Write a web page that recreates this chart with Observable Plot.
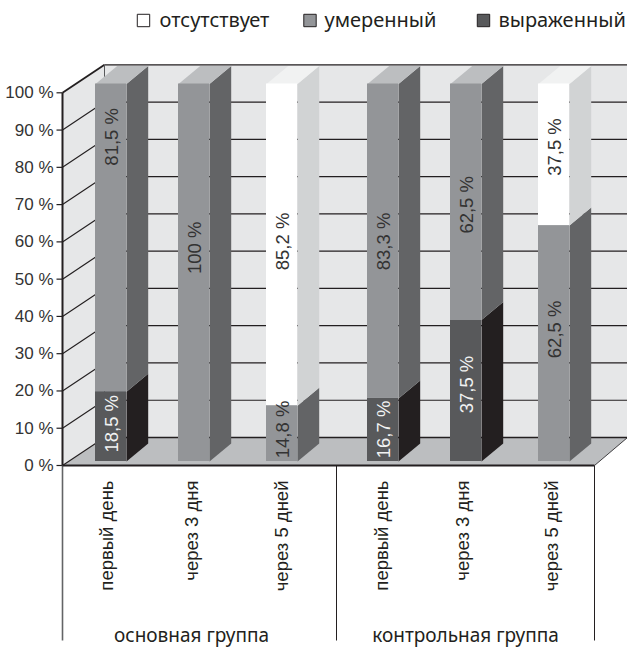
<!DOCTYPE html>
<html>
<head>
<meta charset="utf-8">
<script src="https://cdn.jsdelivr.net/npm/d3@7"></script>
<script src="https://cdn.jsdelivr.net/npm/@observablehq/plot@0.6"></script>
<style>
  html, body { margin: 0; padding: 0; background: #fff; }
  svg { display: block; }
</style>
</head>
<body>
<script>
// Severity shares per measurement, in percent
const categories = ["первый день", "через 3 дня", "через 5 дней", "первый день", "через 3 дня", "через 5 дней"];
const severe   = [18.5, 0, 0, 16.7, 37.5, 0];
const moderate = [81.5, 100, 14.8, 83.3, 62.5, 62.5];
const absent   = [0, 0, 85.2, 0, 0, 37.5];
const groups = ["основная группа", "контрольная группа"];
const legendNames = ["отсутствует", "умеренный", "выраженный"];
const percentTicks = [0, 10, 20, 30, 40, 50, 60, 70, 80, 90, 100];

// Layout of the pseudo-3D box, in svg units
const W = 627, H = 648;
const barBase = 461, barTop = 83.5;
const wallBase = 465, wallSpan = 372.7;
const wallLeft = 62, wallRight = 594, backLeft = 104, backRight = 627, wallRise = 28;
const barLeft = [95, 178, 266, 367, 450, 538];
const categoryX = [107, 192, 282, 382, 463, 552];
const barWidth = 31, barDeepX = 21.7, barDeepY = 18;
const separators = [62, 336, 594];

const perSvg = 100 / (barBase - barTop);
const level = (p) => (barBase - p) * perSvg;            // svg row -> percent units of the y scale
const wallRow = (v, rise = 0) => level(wallBase - wallSpan * v / 100 - rise);
const riseY = barDeepY * perSvg;

const palette = {
  absent:   {front: "#ffffff", side: "#d1d3d4", top: "#f1f2f2", ink: "#333333"},
  moderate: {front: "#939598", side: "#636466", top: "#bcbec0", ink: "#333333"},
  severe:   {front: "#58595b", side: "#231f20", top: "#636466", ink: "#f1f2f2"}
};

// Vertical centre of each value label along its bar, in percent units
const labelAt = {
  severe:   [10, 0, 0, 8.5, 20.4, 0],
  moderate: [86, 56.6, 8.5, 58.3, 68, 35],
  absent:   [0, 0, 58.3, 0, 0, 83.3]
};

// Stack the three series bar by bar
const segments = [];
categories.forEach((c, i) => {
  let base = 0;
  for (const [key, values] of [["severe", severe], ["moderate", moderate], ["absent", absent]]) {
    const v = values[i];
    if (v > 0) {
      segments.push({i, key, y1: base, y2: base + v, value: v, at: labelAt[key][i], ...palette[key]});
      base += v;
    }
  }
});

const poly = (id, fill, pts) => pts.map(([x, y]) => ({id, fill, x, y}));
const sideFaces = segments.flatMap((s, n) => {
  const a = barLeft[s.i] + barWidth, b = a + barDeepX;
  return poly("side" + n, s.side, [[a, s.y1], [b, s.y1 + riseY], [b, s.y2 + riseY], [a, s.y2]]);
});
const topFaces = segments.filter((s) => s.y2 >= 99.99).flatMap((s, n) => {
  const a = barLeft[s.i], c = a + barWidth;
  return poly("top" + n, s.top, [[a, 100], [c, 100], [c + barDeepX, 100 + riseY], [a + barDeepX, 100 + riseY]]);
});
const shell = [
  ...poly("left", "#e6e7e8", [[wallLeft, wallRow(0)], [wallLeft, wallRow(100)], [backLeft, wallRow(100, wallRise)], [backLeft, wallRow(0, wallRise)]]),
  ...poly("back", "#e6e7e8", [[backLeft, wallRow(0, wallRise)], [backLeft, wallRow(100, wallRise)], [backRight, wallRow(100, wallRise)], [backRight, wallRow(0, wallRise)]]),
  ...poly("floor", "#bcbec0", [[wallLeft, wallRow(0)], [wallRight, wallRow(0)], [backRight, wallRow(0, wallRise)], [backLeft, wallRow(0, wallRise)]])
];

const formatValue = (v) => String(v).replace(".", ",") + " %";
const legendItems = [
  {name: legendNames[0], box: 143, tx: 159, fill: palette.absent.front},
  {name: legendNames[1], box: 309.5, tx: 324, fill: palette.moderate.front},
  {name: legendNames[2], box: 483, tx: 498, fill: palette.severe.front}
];
const axisFont = "Arial, Liberation Sans, sans-serif";
const titleFont = "Noto Sans, sans-serif";

const chart = Plot.plot({
  width: W, height: H, margin: 0,
  x: {domain: [0, W], range: [0, W], axis: null},
  y: {domain: [0, 100], range: [barBase, barTop], axis: null},
  marks: [
    // walls and floor
    Plot.line(shell, {x: "x", y: "y", z: "id", fill: "fill", stroke: "none", curve: "linear-closed"}),
    // grid on the back wall
    Plot.link(percentTicks.slice(1), {x1: backLeft, x2: backRight, y1: (v) => wallRow(v, wallRise), y2: (v) => wallRow(v, wallRise), stroke: "#231f20", strokeWidth: 1.2}),
    // grid running along the left wall
    Plot.link(percentTicks, {x1: wallLeft, x2: backLeft, y1: (v) => wallRow(v), y2: (v) => wallRow(v, wallRise), stroke: "#231f20", strokeWidth: (v) => (v === 100 ? 1.8 : 1.2)}),
    Plot.link([0], {x1: backLeft, x2: backLeft, y1: wallRow(0, wallRise), y2: wallRow(100, wallRise), stroke: "#58595b", strokeWidth: 1}),
    Plot.link([0], {x1: wallRight, x2: backRight, y1: wallRow(0), y2: wallRow(0, wallRise), stroke: "#414042", strokeWidth: 1}),
    Plot.link([0], {x1: backLeft, x2: backRight, y1: wallRow(0, wallRise), y2: wallRow(0, wallRise), stroke: "#231f20", strokeWidth: 1.6}),
    // value axis
    Plot.link([0], {x1: wallLeft, x2: wallLeft, y1: wallRow(0), y2: wallRow(100), stroke: "#231f20", strokeWidth: 2}),
    Plot.link(percentTicks, {x1: wallLeft - 6, x2: wallLeft, y1: (v) => wallRow(v), y2: (v) => wallRow(v), stroke: "#231f20", strokeWidth: 1.2}),
    Plot.text(percentTicks, {x: wallLeft - 9, y: (v) => wallRow(v), text: (v) => v + " %", textAnchor: "end", fontSize: 17, fontFamily: axisFont, fill: "#333333"}),
    // group frame below the floor
    Plot.link(separators, {x1: (d) => d, x2: (d) => d, y1: wallRow(0), y2: level(640), stroke: (d) => (d === 62 ? "#636466" : "#231f20"), strokeWidth: (d) => (d === 62 ? 1.6 : 1)}),
    Plot.link([0], {x1: wallLeft, x2: wallRight, y1: wallRow(0), y2: wallRow(0), stroke: "#231f20", strokeWidth: 2}),
    // bars
    Plot.line(sideFaces, {x: "x", y: "y", z: "id", fill: "fill", stroke: "none", curve: "linear-closed"}),
    Plot.line(topFaces, {x: "x", y: "y", z: "id", fill: "fill", stroke: "none", curve: "linear-closed"}),
    Plot.rect(segments, {x1: (s) => barLeft[s.i], x2: (s) => barLeft[s.i] + barWidth, y1: "y1", y2: "y2", fill: "front"}),
    // value labels
    Plot.text(segments, {x: (s) => barLeft[s.i] + 16.5, y: "at", text: (s) => formatValue(s.value), rotate: -90, fill: "ink", fontSize: 18.5, fontFamily: axisFont}),
    // category labels
    Plot.text(categories, {x: (c, i) => categoryX[i], y: level(480), text: (c) => c, rotate: -90, textAnchor: "end", fontSize: 18.5, fontFamily: axisFont, fill: "#231f20"}),
    // group names
    Plot.text(groups, {x: [191, 465], y: level(635.5), text: (g) => g, fontSize: 19, fontFamily: titleFont, fill: "#231f20"}),
    // legend
    Plot.dot(legendItems, {x: "box", y: level(20), symbol: "square", r: 7, fill: "fill", stroke: "#231f20", strokeWidth: 1}),
    Plot.text(legendItems, {x: "tx", y: level(20), text: "name", textAnchor: "start", fontSize: 20, fontFamily: titleFont, fill: "#231f20"})
  ]
});
document.body.appendChild(chart);
</script>
</body>
</html>
